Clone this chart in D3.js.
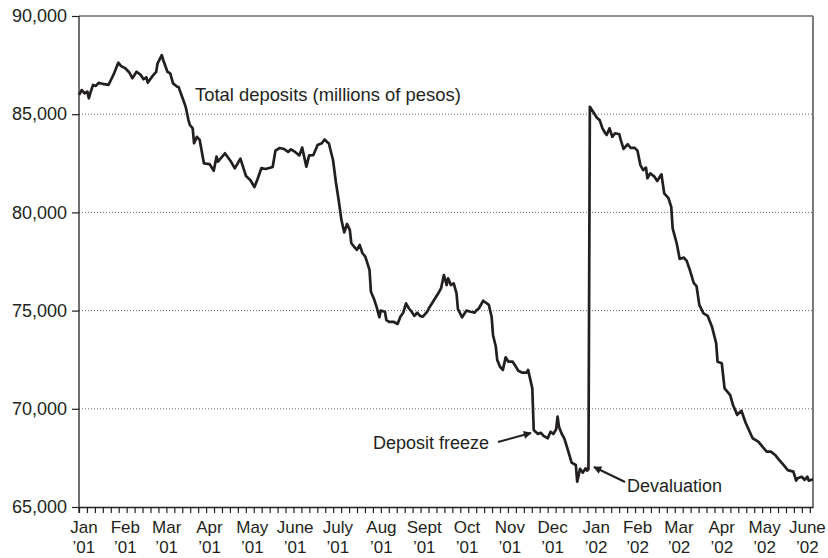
<!DOCTYPE html>
<html>
<head>
<meta charset="utf-8">
<script src="https://cdn.jsdelivr.net/npm/d3@7"></script>
<style>
  body { margin: 0; background: #fff; }
  text { font-family: "Liberation Sans", Arial, Helvetica, sans-serif; fill: #231f20; }
</style>
</head>
<body>
<div id="chart" style="width:828px;height:558px;"></div>
<script>
// days since 1 Jan 2001
const dayNums = [
  12,14,16,18,19,20,22,24,26,29,33,35,37,40,42,45,48,50,53,56,
  58,60,61,64,67,68,71,72,75,77,79,82,83,85,88,90,91,93,94,96,
  98,101,105,108,110,111,116,120,123,127,131,134,137,139,142,145,150,152,155,158,
  161,163,166,169,171,174,176,179,182,185,187,189,190,193,195,197,199,201,203,205,
  206,208,210,212,214,216,219,220,222,224,226,227,230,231,233,236,239,241,243,245,
  247,249,251,253,255,
  257,260,262,265,268,270,272,274,275,277,279,281,282,285,288,291,294,295,297,300,
  302,304,306,307,309,310,312,314,316,318,321,323,325,328,331,332,335,336,339,341,
  343,346,348,350,352,353,354,356,358,360,363,366,367,369,371,373,374,375,376,379,
  381,383,385,387,388,390,392,394,397,398,400,403,405,408,410,412,414,416,417,419,
  422,424,427,429,432,434,435,438,440,443,445,447,450,452,454,457,460,463,466,467,
  470,472,476,478,481,484,487,489,492,496,500,502,505,508,511,514,517,521,523,524,
  527,529,531,532,535
];
// total deposits, millions of pesos
const deposits = [
  85980,86230,86060,86150,85810,86060,86490,86440,86600,86540,86490,86780,87080,87620,87450,87340,87110,86830,87160,87000,
  86780,86880,86600,86910,87160,87590,88010,87760,87160,87080,86570,86400,86380,85980,85380,84700,84450,84280,83520,83850,
  83690,82500,82460,82120,82840,82580,83010,82620,82240,82740,81850,81650,81290,81650,82260,82210,82310,83150,83280,83230,
  83080,83210,83080,82900,83300,82330,82900,82920,83430,83520,83710,83570,83520,82670,81560,80630,79610,78980,79410,79100,
  78440,78250,78090,78340,77920,77750,77070,75960,75630,75200,74660,75000,74940,74520,74430,74430,74320,74690,74890,75370,
  75120,74940,74730,74890,74730,
  74690,74940,75200,75540,75880,76140,76810,76300,76640,76300,76390,75880,75070,74660,75000,74940,74900,75000,75120,75500,
  75400,75290,74690,73760,73160,72490,72140,71980,72620,72400,72400,72180,71940,71840,71840,71980,71040,68920,68720,68780,
  68620,68500,68830,68720,68960,69600,69090,68720,68450,67990,67260,67140,66290,66940,66750,66970,66850,66920,85380,85050,
  84820,84700,84280,84030,83940,84280,83850,84030,83980,83690,83230,83470,83290,83290,83130,82410,82160,82280,81740,81990,
  81820,81600,81940,80970,80730,80280,79190,78390,77630,77700,77530,77120,76410,76250,75290,74860,74730,74180,73340,72400,
  72320,71040,70700,70190,69690,69900,69290,68970,68500,68330,67990,67820,67820,67650,67390,67140,66880,66800,66340,66460,
  66540,66380,66540,66340,66410
];
const monthLabels = ["Jan","Feb","Mar","Apr","May","June","July","Aug","Sept","Oct","Nov","Dec",
                     "Jan","Feb","Mar","Apr","May","June"];
const yearLabels = ["\u201901","\u201901","\u201901","\u201901","\u201901","\u201901","\u201901","\u201901","\u201901","\u201901","\u201901","\u201901",
                    "\u201902","\u201902","\u201902","\u201902","\u201902","\u201902"];
const yTicks = [65000, 70000, 75000, 80000, 85000, 90000];
const gridValues = [70000, 75000, 80000, 85000];
const tickEveryDays = 5.66;

const base = new Date(2001, 0, 1);
const data = dayNums.map((d, i) => ({ date: d3.timeDay.offset(base, d), value: deposits[i] }));

const width = 828, height = 558;
const margin = { top: 16, right: 15, bottom: 51, left: 79 };

const svg = d3.select("#chart").append("svg")
    .attr("width", width)
    .attr("height", height);

const x = d3.scaleTime()
    .domain([data[0].date, data[data.length - 1].date])
    .range([margin.left, width - margin.right]);

const y = d3.scaleLinear()
    .domain([65000, 90000])
    .range([height - margin.bottom, margin.top]);

const ink = "#231f20";

// dotted grid
svg.append("g")
    .selectAll("line")
    .data(gridValues)
    .join("line")
    .attr("x1", x.range()[0])
    .attr("x2", x.range()[1])
    .attr("y1", d => y(d))
    .attr("y2", d => y(d))
    .attr("stroke", "#666")
    .attr("stroke-width", 1)
    .attr("stroke-dasharray", "1,2");

// frame: top and right
svg.append("line")
    .attr("x1", x.range()[0]).attr("x2", x.range()[1])
    .attr("y1", y(90000)).attr("y2", y(90000))
    .attr("stroke", ink).attr("stroke-width", 1.2);
svg.append("line")
    .attr("x1", x.range()[1]).attr("x2", x.range()[1])
    .attr("y1", y(90000)).attr("y2", y(65000))
    .attr("stroke", "#7a7a7a").attr("stroke-width", 2);

// x axis with minor ticks
const [d0, d1] = x.domain();
const tickDates = d3.range(0, (d1 - d0) / 864e5, tickEveryDays)
    .map(k => new Date(d0.getTime() + k * 864e5));

const xAxis = svg.append("g")
    .attr("transform", `translate(0,${y(65000)})`)
    .call(d3.axisBottom(x).tickValues(tickDates).tickSize(6).tickSizeOuter(0).tickFormat(""));
xAxis.select(".domain").attr("stroke", ink).attr("stroke-width", 1.3);
xAxis.selectAll(".tick line").attr("stroke", ink).attr("stroke-width", 1.2);

// month labels, centred on each month
const months = d3.timeMonth.range(new Date(2001, 0, 1), new Date(2002, 6, 1));
const mLabels = svg.append("g").attr("text-anchor", "middle").style("font-size", "17px");
months.forEach((m, i) => {
    const next = d3.timeMonth.offset(m, 1);
    const cx = (x(m) + x(next)) / 2;
    mLabels.append("text").attr("x", cx).attr("y", 533).text(monthLabels[i]);
    mLabels.append("text").attr("x", cx).attr("y", 553).text(yearLabels[i]);
});

// y axis
const yAxis = svg.append("g")
    .attr("transform", `translate(${margin.left},0)`)
    .call(d3.axisLeft(y).tickValues(yTicks).tickSize(7).tickPadding(5).tickFormat(d3.format(",")));
yAxis.select(".domain").remove();
yAxis.selectAll(".tick line").attr("stroke", ink).attr("stroke-width", 1.2);
yAxis.selectAll(".tick text")
    .style("font-size", "18px")
    .style("font-family", "'Liberation Sans', Arial, Helvetica, sans-serif")
    .attr("fill", ink);
svg.append("line")
    .attr("x1", margin.left).attr("x2", margin.left)
    .attr("y1", y(90000)).attr("y2", y(65000) + 6)
    .attr("stroke", ink).attr("stroke-width", 1.3);

// deposits line
const line = d3.line()
    .x(d => x(d.date))
    .y(d => y(d.value));

svg.append("path")
    .datum(data)
    .attr("fill", "none")
    .attr("stroke", ink)
    .attr("stroke-width", 2.7)
    .attr("stroke-linejoin", "round")
    .attr("d", line);

// annotations
svg.append("defs").append("marker")
    .attr("id", "arrow")
    .attr("viewBox", "0 0 10 10")
    .attr("refX", 9).attr("refY", 5)
    .attr("markerWidth", 10).attr("markerHeight", 8)
    .attr("markerUnits", "userSpaceOnUse")
    .attr("orient", "auto")
    .append("path")
    .attr("d", "M0,0L10,5L0,10z")
    .attr("fill", ink);

svg.append("text")
    .attr("x", 195).attr("y", 101)
    .style("font-size", "18.4px")
    .text("Total deposits (millions of pesos)");

svg.append("text")
    .attr("x", 373).attr("y", 449)
    .style("font-size", "18px")
    .text("Deposit freeze");
svg.append("line")
    .attr("x1", 498).attr("y1", 442)
    .attr("x2", 531).attr("y2", 433)
    .attr("stroke", ink).attr("stroke-width", 2)
    .attr("marker-end", "url(#arrow)");

svg.append("text")
    .attr("x", 627).attr("y", 492)
    .style("font-size", "18px")
    .text("Devaluation");
svg.append("line")
    .attr("x1", 625).attr("y1", 482)
    .attr("x2", 594).attr("y2", 467)
    .attr("stroke", ink).attr("stroke-width", 2)
    .attr("marker-end", "url(#arrow)");
</script>
</body>
</html>
